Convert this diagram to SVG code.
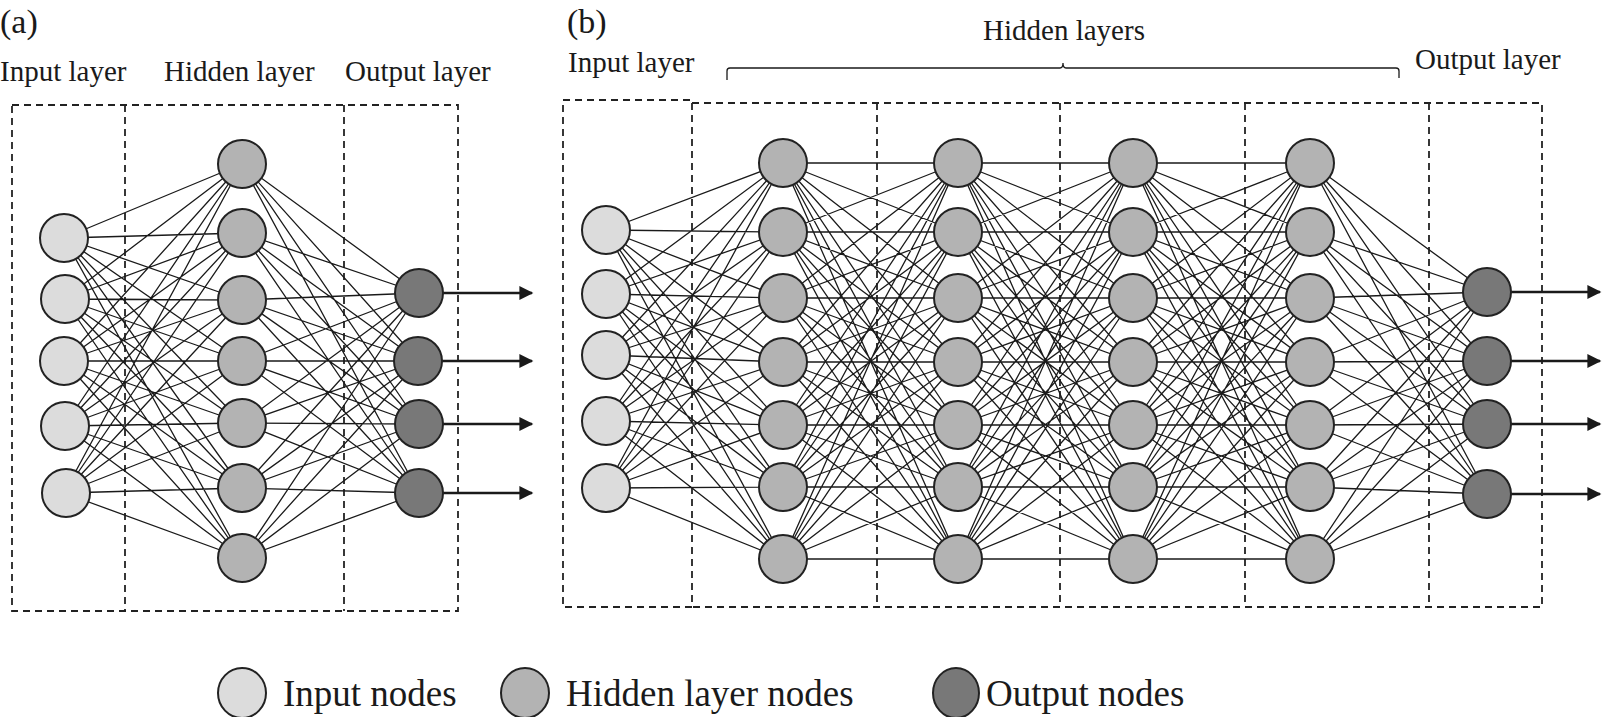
<svg xmlns="http://www.w3.org/2000/svg" width="1604" height="717" viewBox="0 0 1604 717">
<defs>
<style>
text{font-family:"Liberation Serif","Times New Roman",serif;fill:#1a1a1a}
.lbl{font-size:29px}
.box{fill:none;stroke:#222;stroke-width:1.8;stroke-dasharray:7 5}
.c{fill:none;stroke:#1a1a1a;stroke-width:1.3}
.n{stroke:#222;stroke-width:2}
.i{fill:#dcdcdc}.h{fill:#b3b3b3}.o{fill:#787878}
.ar{stroke:#1a1a1a;stroke-width:2.6;fill:none}
</style>
<marker id="a2" viewBox="0 0 10 10" refX="9" refY="5" markerWidth="18" markerHeight="14" orient="auto" markerUnits="userSpaceOnUse"><path d="M0 0L10 5L0 10z" fill="#1a1a1a"/></marker>
</defs>
<rect width="1604" height="717" fill="#fff"/>
<g id="labels">
<text x="0" y="33" font-size="34">(a)</text>
<text x="0" y="81" class="lbl">Input layer</text>
<text x="164" y="81" class="lbl">Hidden layer</text>
<text x="345" y="81" class="lbl">Output layer</text>
<text x="567" y="33" font-size="34">(b)</text>
<text x="568" y="72" class="lbl">Input layer</text>
<text x="1064" y="40" class="lbl" text-anchor="middle">Hidden layers</text>
<text x="1415" y="69" class="lbl">Output layer</text>
<path d="M727 80V71Q727 68 730 68H1060Q1063 68 1063 63Q1063 68 1066 68H1396Q1399 68 1399 71V78" class="c"/>
</g>
<g id="boxes">
<path class="box" d="M12 105H458V611H12Z"/>
<path class="box" d="M125 105V611M344 105V611"/>
<path class="box" d="M563 100H692V607H563Z"/>
<path class="box" d="M692 103H1542V607H692"/>
<path class="box" d="M877 103V607M1060 103V607M1245 103V607M1429 103V607"/>
</g>
<g id="connectors">
<path class="c" d="M64 238L242 164M64 238L242 233M64 238L242 300M64 238L242 361M64 238L242 423M64 238L242 488M64 238L242 558
M64 299L242 164M64 299L242 233M64 299L242 300M64 299L242 361M64 299L242 423M64 299L242 488M64 299L242 558
M64 361L242 164M64 361L242 233M64 361L242 300M64 361L242 361M64 361L242 423M64 361L242 488M64 361L242 558
M64 426L242 164M64 426L242 233M64 426L242 300M64 426L242 361M64 426L242 423M64 426L242 488M64 426L242 558
M64 493L242 164M64 493L242 233M64 493L242 300M64 493L242 361M64 493L242 423M64 493L242 488M64 493L242 558"/>
<path class="c" d="M242 164L419 293M242 164L419 361M242 164L419 424M242 164L419 493
M242 233L419 293M242 233L419 361M242 233L419 424M242 233L419 493
M242 300L419 293M242 300L419 361M242 300L419 424M242 300L419 493
M242 361L419 293M242 361L419 361M242 361L419 424M242 361L419 493
M242 423L419 293M242 423L419 361M242 423L419 424M242 423L419 493
M242 488L419 293M242 488L419 361M242 488L419 424M242 488L419 493
M242 558L419 293M242 558L419 361M242 558L419 424M242 558L419 493"/>
<path class="c" d="M606 230L783 163M606 230L783 232M606 230L783 298M606 230L783 362M606 230L783 425M606 230L783 487M606 230L783 559
M606 294L783 163M606 294L783 232M606 294L783 298M606 294L783 362M606 294L783 425M606 294L783 487M606 294L783 559
M606 355L783 163M606 355L783 232M606 355L783 298M606 355L783 362M606 355L783 425M606 355L783 487M606 355L783 559
M606 421L783 163M606 421L783 232M606 421L783 298M606 421L783 362M606 421L783 425M606 421L783 487M606 421L783 559
M606 488L783 163M606 488L783 232M606 488L783 298M606 488L783 362M606 488L783 425M606 488L783 487M606 488L783 559"/>
<path class="c" d="M783 163L958 163M783 163L958 232M783 163L958 298M783 163L958 362M783 163L958 425M783 163L958 487M783 163L958 559
M783 232L958 163M783 232L958 232M783 232L958 298M783 232L958 362M783 232L958 425M783 232L958 487M783 232L958 559
M783 298L958 163M783 298L958 232M783 298L958 298M783 298L958 362M783 298L958 425M783 298L958 487M783 298L958 559
M783 362L958 163M783 362L958 232M783 362L958 298M783 362L958 362M783 362L958 425M783 362L958 487M783 362L958 559
M783 425L958 163M783 425L958 232M783 425L958 298M783 425L958 362M783 425L958 425M783 425L958 487M783 425L958 559
M783 487L958 163M783 487L958 232M783 487L958 298M783 487L958 362M783 487L958 425M783 487L958 487M783 487L958 559
M783 559L958 163M783 559L958 232M783 559L958 298M783 559L958 362M783 559L958 425M783 559L958 487M783 559L958 559"/>
<path class="c" d="M958 163L1133 163M958 163L1133 232M958 163L1133 298M958 163L1133 362M958 163L1133 425M958 163L1133 487M958 163L1133 559
M958 232L1133 163M958 232L1133 232M958 232L1133 298M958 232L1133 362M958 232L1133 425M958 232L1133 487M958 232L1133 559
M958 298L1133 163M958 298L1133 232M958 298L1133 298M958 298L1133 362M958 298L1133 425M958 298L1133 487M958 298L1133 559
M958 362L1133 163M958 362L1133 232M958 362L1133 298M958 362L1133 362M958 362L1133 425M958 362L1133 487M958 362L1133 559
M958 425L1133 163M958 425L1133 232M958 425L1133 298M958 425L1133 362M958 425L1133 425M958 425L1133 487M958 425L1133 559
M958 487L1133 163M958 487L1133 232M958 487L1133 298M958 487L1133 362M958 487L1133 425M958 487L1133 487M958 487L1133 559
M958 559L1133 163M958 559L1133 232M958 559L1133 298M958 559L1133 362M958 559L1133 425M958 559L1133 487M958 559L1133 559"/>
<path class="c" d="M1133 163L1310 163M1133 163L1310 232M1133 163L1310 298M1133 163L1310 362M1133 163L1310 425M1133 163L1310 487M1133 163L1310 559
M1133 232L1310 163M1133 232L1310 232M1133 232L1310 298M1133 232L1310 362M1133 232L1310 425M1133 232L1310 487M1133 232L1310 559
M1133 298L1310 163M1133 298L1310 232M1133 298L1310 298M1133 298L1310 362M1133 298L1310 425M1133 298L1310 487M1133 298L1310 559
M1133 362L1310 163M1133 362L1310 232M1133 362L1310 298M1133 362L1310 362M1133 362L1310 425M1133 362L1310 487M1133 362L1310 559
M1133 425L1310 163M1133 425L1310 232M1133 425L1310 298M1133 425L1310 362M1133 425L1310 425M1133 425L1310 487M1133 425L1310 559
M1133 487L1310 163M1133 487L1310 232M1133 487L1310 298M1133 487L1310 362M1133 487L1310 425M1133 487L1310 487M1133 487L1310 559
M1133 559L1310 163M1133 559L1310 232M1133 559L1310 298M1133 559L1310 362M1133 559L1310 425M1133 559L1310 487M1133 559L1310 559"/>
<path class="c" d="M1310 163L1487 292M1310 163L1487 361M1310 163L1487 424M1310 163L1487 494
M1310 232L1487 292M1310 232L1487 361M1310 232L1487 424M1310 232L1487 494
M1310 298L1487 292M1310 298L1487 361M1310 298L1487 424M1310 298L1487 494
M1310 362L1487 292M1310 362L1487 361M1310 362L1487 424M1310 362L1487 494
M1310 425L1487 292M1310 425L1487 361M1310 425L1487 424M1310 425L1487 494
M1310 487L1487 292M1310 487L1487 361M1310 487L1487 424M1310 487L1487 494
M1310 559L1487 292M1310 559L1487 361M1310 559L1487 424M1310 559L1487 494"/>
<path class="ar" marker-end="url(#a2)" d="M442 293H532"/>
<path class="ar" marker-end="url(#a2)" d="M442 361H532"/>
<path class="ar" marker-end="url(#a2)" d="M442 424H532"/>
<path class="ar" marker-end="url(#a2)" d="M442 493H532"/>
<path class="ar" marker-end="url(#a2)" d="M1510 292H1600"/>
<path class="ar" marker-end="url(#a2)" d="M1510 361H1600"/>
<path class="ar" marker-end="url(#a2)" d="M1510 424H1600"/>
<path class="ar" marker-end="url(#a2)" d="M1510 494H1600"/>
</g>
<g id="nodes-a">
<circle class="n i" cx="64" cy="238" r="24"/><circle class="n i" cx="65" cy="299" r="24"/><circle class="n i" cx="64" cy="361" r="24"/><circle class="n i" cx="65" cy="426" r="24"/><circle class="n i" cx="66" cy="493" r="24"/>
<circle class="n h" cx="242" cy="164" r="24"/><circle class="n h" cx="242" cy="233" r="24"/><circle class="n h" cx="242" cy="300" r="24"/><circle class="n h" cx="242" cy="361" r="24"/><circle class="n h" cx="242" cy="423" r="24"/><circle class="n h" cx="242" cy="488" r="24"/><circle class="n h" cx="242" cy="558" r="24"/>
<circle class="n o" cx="419" cy="293" r="24"/><circle class="n o" cx="418" cy="361" r="24"/><circle class="n o" cx="419" cy="424" r="24"/><circle class="n o" cx="419" cy="493" r="24"/>
</g>
<g id="nodes-b">
<circle class="n i" cx="606" cy="230" r="24"/><circle class="n i" cx="606" cy="294" r="24"/><circle class="n i" cx="606" cy="355" r="24"/><circle class="n i" cx="606" cy="421" r="24"/><circle class="n i" cx="606" cy="488" r="24"/>
<circle class="n h" cx="783" cy="163" r="24"/><circle class="n h" cx="783" cy="232" r="24"/><circle class="n h" cx="783" cy="298" r="24"/><circle class="n h" cx="783" cy="362" r="24"/><circle class="n h" cx="783" cy="425" r="24"/><circle class="n h" cx="783" cy="487" r="24"/><circle class="n h" cx="783" cy="559" r="24"/>
<circle class="n h" cx="958" cy="163" r="24"/><circle class="n h" cx="958" cy="232" r="24"/><circle class="n h" cx="958" cy="298" r="24"/><circle class="n h" cx="958" cy="362" r="24"/><circle class="n h" cx="958" cy="425" r="24"/><circle class="n h" cx="958" cy="487" r="24"/><circle class="n h" cx="958" cy="559" r="24"/>
<circle class="n h" cx="1133" cy="163" r="24"/><circle class="n h" cx="1133" cy="232" r="24"/><circle class="n h" cx="1133" cy="298" r="24"/><circle class="n h" cx="1133" cy="362" r="24"/><circle class="n h" cx="1133" cy="425" r="24"/><circle class="n h" cx="1133" cy="487" r="24"/><circle class="n h" cx="1133" cy="559" r="24"/>
<circle class="n h" cx="1310" cy="163" r="24"/><circle class="n h" cx="1310" cy="232" r="24"/><circle class="n h" cx="1310" cy="298" r="24"/><circle class="n h" cx="1310" cy="362" r="24"/><circle class="n h" cx="1310" cy="425" r="24"/><circle class="n h" cx="1310" cy="487" r="24"/><circle class="n h" cx="1310" cy="559" r="24"/>
<circle class="n o" cx="1487" cy="292" r="24"/><circle class="n o" cx="1487" cy="361" r="24"/><circle class="n o" cx="1487" cy="424" r="24"/><circle class="n o" cx="1487" cy="494" r="24"/>
</g>
<g id="legend">
<ellipse class="n i" cx="242" cy="693" rx="24" ry="25"/>
<text x="283" y="706" font-size="37">Input nodes</text>
<ellipse class="n h" cx="525" cy="693" rx="24" ry="25"/>
<text x="566" y="706" font-size="37">Hidden layer nodes</text>
<ellipse class="n o" cx="956" cy="693" rx="23" ry="25"/>
<text x="986" y="706" font-size="37">Output nodes</text>
</g>
</svg>
